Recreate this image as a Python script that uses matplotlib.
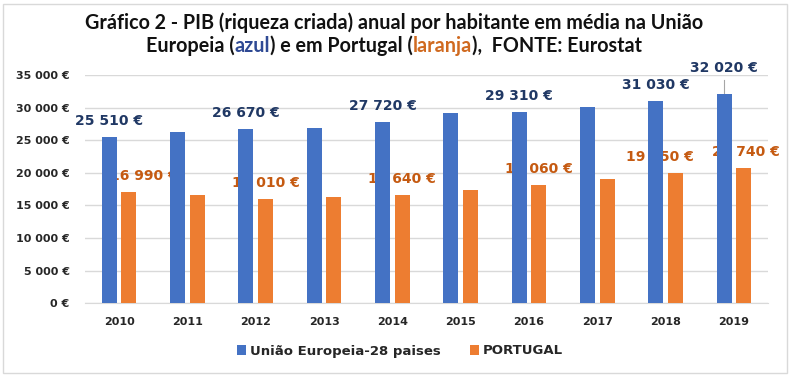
import numpy as np
import matplotlib.pyplot as plt
from matplotlib.patches import Rectangle

years = ['2010', '2011', '2012', '2013', '2014', '2015', '2016', '2017', '2018', '2019']
ue28 = [25510, 26200, 26670, 26800, 27720, 29200, 29310, 30100, 31030, 32020]
portugal = [16990, 16600, 16010, 16350, 16640, 17300, 18060, 19000, 19950, 20740]

# which years carry a value label (index into years)
ue_lab_idx = [0, 2, 4, 6, 8, 9]
pt_lab_idx = [0, 2, 4, 6, 8, 9]

blue = '#4472C4'
orange = '#ED7D31'
navy = '#203864'
dark_orange = '#C55A11'

def eur(v):
    return f"{v:,}".replace(",", " ") + " €"

W, H = 793, 380
fig = plt.figure(figsize=(W / 100, H / 100), dpi=100)
fig.patch.set_facecolor('white')
fig.patches.append(Rectangle((3 / W, 1 - 373 / H), 784 / W, 369 / H, transform=fig.transFigure,
                             fill=False, edgecolor='#D9D9D9', linewidth=1))

ax = fig.add_axes([85 / W, 1 - 303.3 / H, 683 / W, 228.3 / H])
x = np.arange(len(years))
bw = 0.22
off = 0.143
ax.bar(x - off, ue28, bw, color=blue, zorder=3, label='União Europeia-28 paises')
ax.bar(x + off, portugal, bw, color=orange, zorder=3, label='PORTUGAL')

ax.set_xlim(-0.5, len(years) - 0.5)
ax.set_ylim(0, 35000)
ax.set_yticks(np.arange(0, 35001, 5000))
ax.set_yticklabels([eur(v) for v in range(0, 35001, 5000)], fontsize=8, fontweight='bold', color='#262626')
ax.set_xticks(x)
ax.set_xticklabels(years, fontsize=8, fontweight='bold', color='#262626')
ax.tick_params(axis='y', length=0, pad=11)
ax.tick_params(axis='x', length=0, pad=10)
ax.grid(axis='y', color='#D9D9D9', linewidth=1, zorder=0)
for s in ['top', 'right', 'left']:
    ax.spines[s].set_visible(False)
ax.spines['bottom'].set_color('#D9D9D9')

# value labels
for i in ue_lab_idx:
    dy = 26 if i == 9 else 16
    ax.annotate(eur(ue28[i]), (x[i] - off, ue28[i]), xytext=(0, dy), textcoords='offset pixels',
                ha='center', va='center', fontsize=10, fontweight='bold', color=navy, zorder=5)
# leader line for the 2019 label
ax.plot([x[9] - off, x[9] - off], [ue28[9], ue28[9] + 14 / 228.3 * 35000],
        color='#A6A6A6', linewidth=0.8, zorder=2)
pt_dx = {0: 15, 8: -15, 9: 2}
for i in pt_lab_idx:
    ax.annotate(eur(portugal[i]), (x[i] + off, portugal[i]), xytext=(pt_dx.get(i, 0), 16),
                textcoords='offset pixels', ha='center', va='center', fontsize=10,
                fontweight='bold', color=dark_orange, zorder=2.5)

fig.legend(loc='center', bbox_to_anchor=(400 / W, 1 - 351 / H), ncol=2, frameon=False,
           prop={'size': 9.5, 'weight': 'bold'}, handlelength=0.7, handleheight=0.7,
           handletextpad=0.3, columnspacing=2.2, labelcolor='#262626')

# title, second line in coloured pieces
tfont = dict(fontsize=14.2, fontweight='bold', family='Lato')
fig.text(394 / W, 1 - 23 / H, 'Gráfico 2 - PIB (riqueza criada) anual por habitante em média na União',
         ha='center', va='center', color='#111111', **tfont)
parts = [('Europeia (', '#111111'), ('azul', '#2F4A94'), (') e em Portugal (', '#111111'),
         ('laranja', '#D06A20'), ('),  FONTE: Eurostat', '#111111')]
r = fig.canvas.get_renderer()
objs = []
for txt, c in parts:
    t = fig.text(0, 1 - 46 / H, txt, ha='left', va='center', color=c, **tfont)
    objs.append(t)
widths = [t.get_window_extent(r).width for t in objs]
xs = 394 - sum(widths) / 2
for t, w in zip(objs, widths):
    t.set_x(xs / W)
    xs += w

fig.savefig('out.png', dpi=100)
